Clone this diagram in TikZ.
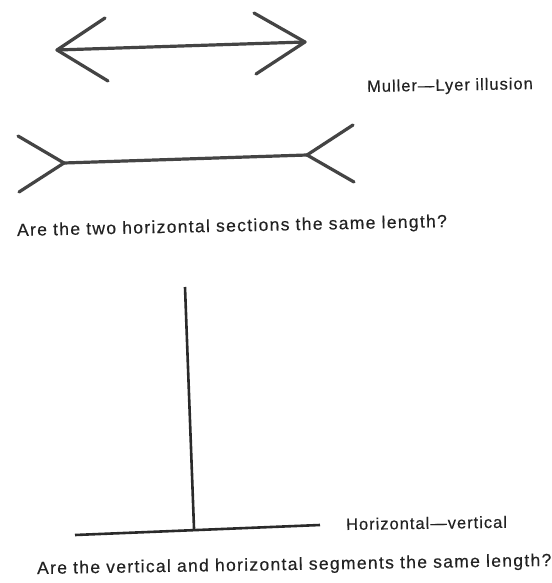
\documentclass[tikz,border=0pt]{standalone}
\usepackage{fontspec}
\usetikzlibrary{calc}
\setmainfont[LetterSpace=7.5,FakeBold=0.3]{Liberation Sans}
\newfontfamily\labelfont[LetterSpace=6,FakeBold=0.3]{Liberation Sans}
\definecolor{arrowgray}{HTML}{444444}
\definecolor{linegray}{HTML}{2A2A2A}
\definecolor{textgray}{HTML}{222222}
\begin{document}
\begin{tikzpicture}[x=1pt,y=-1pt,
  ml/.style={line width=3.2pt, color=arrowgray, line cap=round, line join=round},
  hv/.style={line width=2.6pt, color=linegray},
  lbl/.style={font=\fontsize{17.5}{21}\selectfont, text=textgray, inner sep=0pt, anchor=base west, rotate=1},
  tag/.style={lbl, font=\labelfont\fontsize{16.5}{20}\selectfont}]
\useasboundingbox (0,0) rectangle (551,583);
\fill[white] (0,0) rectangle (551,583);
% Muller-Lyer: arrow with heads pointing outward
\coordinate (a1) at (57,50);
\coordinate (a2) at (305,42);
\coordinate (a1u) at (105,18);
\coordinate (a1d) at (108,81);
\coordinate (a2u) at (254,13);
\coordinate (a2d) at (256,74);
\draw[ml] (a1) -- (a2);
\draw[ml] (a1u) -- (a1) -- (a1d);
\draw[ml] (a2u) -- (a2) -- (a2d);
% Muller-Lyer: fins pointing inward
\coordinate (b1) at (64,163);
\coordinate (b2) at (307,155);
\coordinate (b1u) at (18,136);
\coordinate (b1d) at (19,192);
\coordinate (b2u) at (353,125);
\coordinate (b2d) at (354,182);
\draw[ml] (b1) -- (b2);
\draw[ml] (b1u) -- (b1) -- (b1d);
\draw[ml] (b2u) -- (b2) -- (b2d);
\node[tag] (mltext) at (367,92) {Muller—Lyer illusion};
\node[lbl, rotate=0.2] (q1) at (17,236) {Are the two horizontal sections the same length?};
% Horizontal-vertical
\coordinate (vtop) at (185,287);
\coordinate (hl) at (75,535);
\coordinate (hr) at (320,525);
\coordinate (vbot) at ($(hl)!0.486!(hr)$);
\draw[hv] (vtop) -- (vbot);
\draw[hv] (hl) -- (hr);
\node[tag, rotate=-0.2] (hvtext) at (346,530) {Horizontal—vertical};
\node[lbl, rotate=-0.1] (q2) at (37,574) {Are the vertical and horizontal segments the same length?};
\end{tikzpicture}
\end{document}
